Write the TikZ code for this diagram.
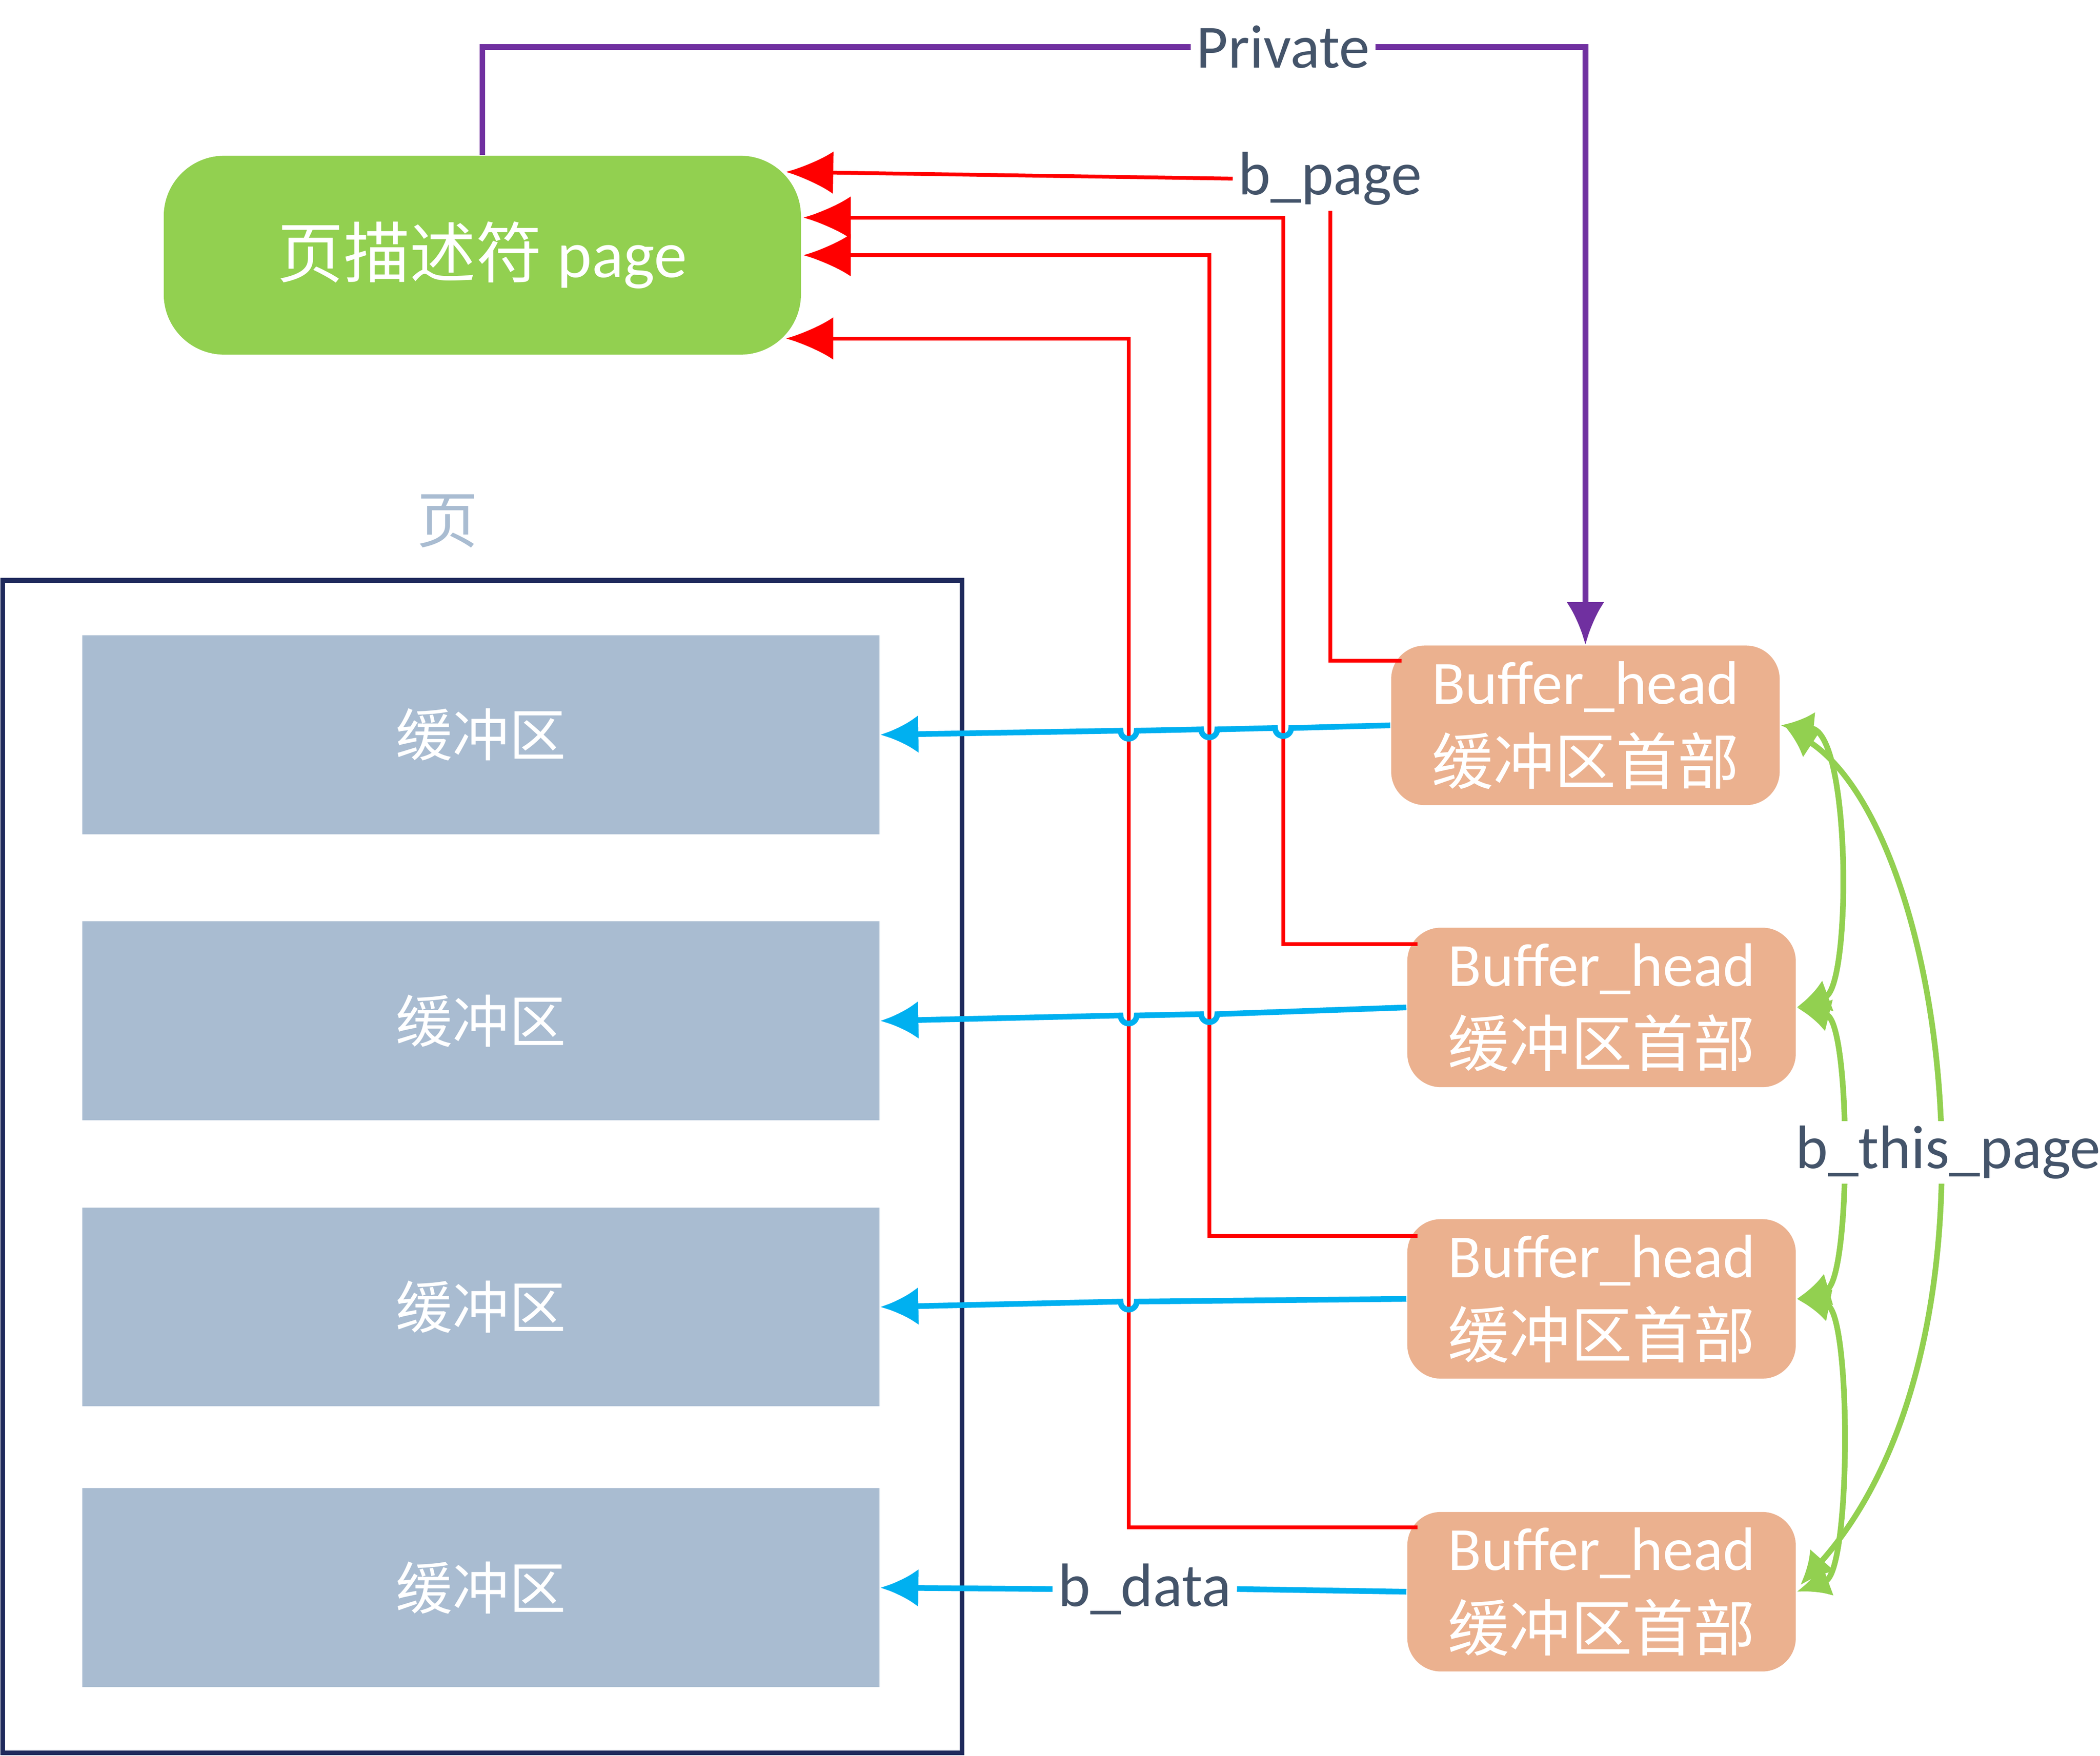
\documentclass[tikz,border=0pt]{standalone}
\usepackage{fontspec}
\setmainfont{Carlito}
\newfontfamily\cjk{Noto Sans CJK SC}
\usetikzlibrary{arrows.meta}
\definecolor{pagegreen}{HTML}{92D050}
\definecolor{bhorange}{HTML}{EBB18F}
\definecolor{bufgray}{HTML}{A9BCD1}
\definecolor{framenavy}{HTML}{1F2A5C}
\definecolor{dataline}{HTML}{00B0F0}
\definecolor{purp}{HTML}{7030A0}
\definecolor{lbl}{HTML}{44546A}
\definecolor{listgreen}{HTML}{92D050}
\tikzset{
    buf/.style={fill=bufgray,draw=none,minimum width=5.93cm,minimum height=1.48cm,text=white,font=\cjk\fontsize{12}{14}\selectfont},
    bh/.style={fill=bhorange,draw=none,rounded corners=0.25cm,minimum width=2.89cm,minimum height=1.07cm,text=white,align=center,font=\fontsize{13}{17}\selectfont},
    lab/.style={fill=white,text=lbl,inner sep=1pt,font=\fontsize{13}{15}\selectfont},
    redl/.style={red,line width=0.8pt},
    redarr/.style={redl,-{Latex[length=10pt,width=9pt]}},
    bluel/.style={dataline,line width=1.2pt,-{Latex[length=8pt,width=8pt]}},
    grn/.style={listgreen,line width=1.2pt,{Latex[length=7pt,width=7pt]}-{Latex[length=7pt,width=7pt]}}
}
\begin{document}
\begin{tikzpicture}[x=0.01cm,y=-0.01cm]
    \useasboundingbox (0,0) rectangle (1563,1307);

    \node[fill=pagegreen,rounded corners=0.45cm,minimum width=4.74cm,minimum height=1.48cm,text=white,font=\fontsize{14}{16}\selectfont] (page) at (359,190) {{\cjk 页描述符} page};
    \node[text=bufgray,font=\cjk\fontsize{13}{15}\selectfont] (pagelbl) at (333,388) {页};
    \draw[framenavy,line width=1pt] (2,432) rectangle (716,1305);

    \node[buf] (buf1) at (358,547) {缓冲区};
    \node[buf] (buf2) at (358,760) {缓冲区};
    \node[buf] (buf3) at (358,973) {缓冲区};
    \node[buf] (buf4) at (358,1182) {缓冲区};

    \node[bh] (bh1) at (1180,540) {Buffer\_head\\{\cjk 缓冲区首部}};
    \node[bh] (bh2) at (1192,750) {Buffer\_head\\{\cjk 缓冲区首部}};
    \node[bh] (bh3) at (1192,967) {Buffer\_head\\{\cjk 缓冲区首部}};
    \node[bh] (bh4) at (1192,1185) {Buffer\_head\\{\cjk 缓冲区首部}};

    % private
    \node[lab] (priv) at (955,35) {Private};
    \draw[purp,line width=1.2pt] (page.north) |- (priv.west);
    \draw[purp,line width=1.2pt,-{Latex[length=9pt,width=8pt]}] (priv.east) -| (bh1.north);

    % b_page
    \node[lab] (bpage) at (990,133) {b\_page};
    \draw[redl] (1043,492) -| (bpage.south);
    \draw[redarr] (bpage.west) -- (585,128);
    \draw[redarr] (1055,703) -| (955,162) -- (598,162);
    \draw[redarr] (1055,920) -| (900,190) -- (598,190);
    \draw[redarr] (1055,1137) -| (840,252) -- (585,252);

    % b_data
    \draw[bluel] (bh1.west) -- (961,542) arc(0:180:6) -- (906,543) arc(0:180:6) -- (846,544) arc(0:180:6) -- (buf1.east);
    \draw[bluel] (bh2.west) -- (906,755) arc(0:180:6) -- (846,756) arc(0:180:6) -- (buf2.east);
    \draw[bluel] (bh3.west) -- (846,969) arc(0:180:6) -- (buf3.east);
    \node[lab] (bdata) at (852,1183) {b\_data};
    \draw[dataline,line width=1.2pt] (bh4.west) -- (bdata.east);
    \draw[bluel] (bdata.west) -- (buf4.east);

    % b_this_page
    \draw[grn] (bh1.east) .. controls (1378,545) and (1378,735) .. (bh2.east);
    \draw[grn] (bh2.east) .. controls (1378,760) and (1378,955) .. (bh3.east);
    \draw[grn] (bh3.east) .. controls (1378,975) and (1378,1170) .. (bh4.east);
    \draw[grn] (1328,540) .. controls (1450,620) and (1500,1000) .. (1340,1180);
    \node[lab] (bthis) at (1450,858) {b\_this\_page};
\end{tikzpicture}
\end{document}
